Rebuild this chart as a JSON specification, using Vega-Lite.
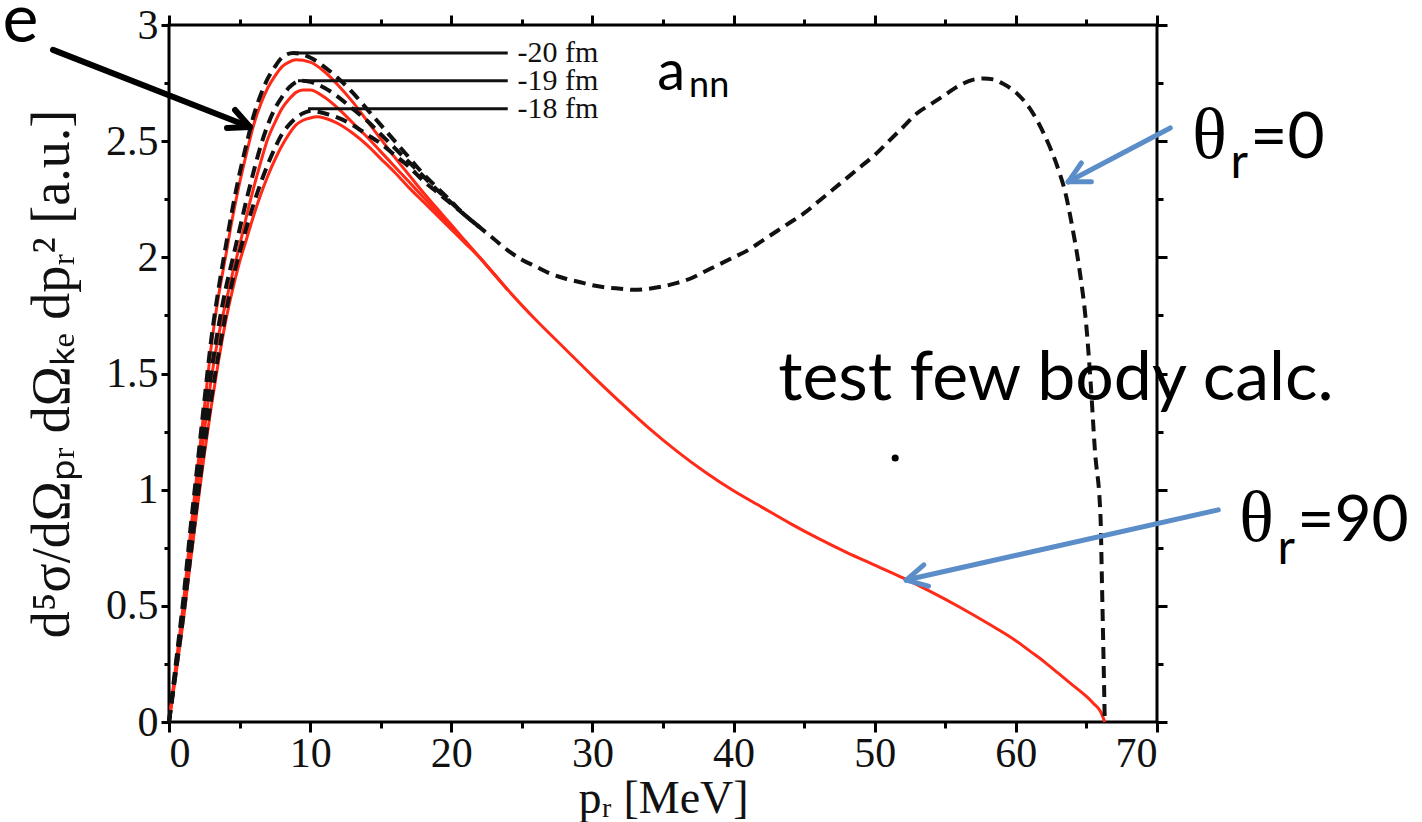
{
  "$schema": "https://vega.github.io/schema/vega-lite/v6.json",
  "width": 988,
  "height": 697,
  "autosize": {"type": "none"},
  "padding": {"left": 169, "top": 25, "right": 265, "bottom": 100},
  "background": "white",
  "config": {
    "view": {"stroke": "#000", "strokeWidth": 3},
    "axis": {"grid": false, "domain": false, "tickColor": "#000", "tickWidth": 3, "labelFont": "Liberation Serif", "labelColor": "#111", "titleFont": "Liberation Serif", "titleColor": "#111", "titleFontWeight": "normal"}
  },
  "datasets": {
    "red": [
      {"p":0,"v":0,"a":"-20"},{"p":0.5,"v":0.25,"a":"-20"},{"p":1,"v":0.5,"a":"-20"},{"p":1.5,"v":0.8,"a":"-20"},{"p":2,"v":1.08,"a":"-20"},{"p":2.5,"v":1.35,"a":"-20"},{"p":3,"v":1.62,"a":"-20"},{"p":3.5,"v":1.83,"a":"-20"},{"p":4,"v":2.0,"a":"-20"},{"p":4.5,"v":2.17,"a":"-20"},{"p":5,"v":2.32,"a":"-20"},{"p":5.5,"v":2.45,"a":"-20"},{"p":6,"v":2.57,"a":"-20"},{"p":6.5,"v":2.66,"a":"-20"},{"p":7,"v":2.73,"a":"-20"},{"p":7.5,"v":2.78,"a":"-20"},{"p":8,"v":2.82,"a":"-20"},{"p":8.5,"v":2.84,"a":"-20"},{"p":9,"v":2.85,"a":"-20"},{"p":10,"v":2.84,"a":"-20"},{"p":11,"v":2.8,"a":"-20"},{"p":12,"v":2.74,"a":"-20"},{"p":13,"v":2.67,"a":"-20"},{"p":14,"v":2.59,"a":"-20"},{"p":15,"v":2.51,"a":"-20"},{"p":16,"v":2.43,"a":"-20"},{"p":17,"v":2.355,"a":"-20"},{"p":18,"v":2.28,"a":"-20"},{"p":19,"v":2.21,"a":"-20"},{"p":20,"v":2.14,"a":"-20"},{"p":21,"v":2.07,"a":"-20"},{"p":22,"v":2.0,"a":"-20"},{"p":23,"v":1.93,"a":"-20"},{"p":24,"v":1.86,"a":"-20"},
      {"p":0,"v":0,"a":"-19"},{"p":0.5,"v":0.23,"a":"-19"},{"p":1,"v":0.47,"a":"-19"},{"p":1.5,"v":0.74,"a":"-19"},{"p":2,"v":1.0,"a":"-19"},{"p":2.5,"v":1.25,"a":"-19"},{"p":3,"v":1.48,"a":"-19"},{"p":3.5,"v":1.66,"a":"-19"},{"p":4,"v":1.8,"a":"-19"},{"p":4.5,"v":1.93,"a":"-19"},{"p":5,"v":2.05,"a":"-19"},{"p":5.5,"v":2.18,"a":"-19"},{"p":6,"v":2.3,"a":"-19"},{"p":6.5,"v":2.41,"a":"-19"},{"p":7,"v":2.51,"a":"-19"},{"p":7.5,"v":2.58,"a":"-19"},{"p":8,"v":2.64,"a":"-19"},{"p":8.5,"v":2.68,"a":"-19"},{"p":9,"v":2.71,"a":"-19"},{"p":9.5,"v":2.72,"a":"-19"},{"p":10,"v":2.72,"a":"-19"},{"p":11,"v":2.69,"a":"-19"},{"p":12,"v":2.64,"a":"-19"},{"p":13,"v":2.58,"a":"-19"},{"p":14,"v":2.52,"a":"-19"},{"p":15,"v":2.455,"a":"-19"},{"p":16,"v":2.39,"a":"-19"},{"p":17,"v":2.325,"a":"-19"},{"p":18,"v":2.26,"a":"-19"},{"p":19,"v":2.195,"a":"-19"},{"p":20,"v":2.13,"a":"-19"},{"p":21,"v":2.065,"a":"-19"},{"p":22,"v":2.0,"a":"-19"},{"p":23,"v":1.93,"a":"-19"},{"p":24,"v":1.86,"a":"-19"},{"p":26,"v":1.73,"a":"-19"},{"p":28,"v":1.61,"a":"-19"},{"p":30,"v":1.49,"a":"-19"},{"p":32,"v":1.375,"a":"-19"},{"p":34,"v":1.265,"a":"-19"},{"p":36,"v":1.165,"a":"-19"},{"p":38,"v":1.075,"a":"-19"},{"p":40,"v":0.995,"a":"-19"},{"p":42,"v":0.925,"a":"-19"},{"p":44,"v":0.855,"a":"-19"},{"p":46,"v":0.79,"a":"-19"},{"p":48,"v":0.73,"a":"-19"},{"p":50,"v":0.675,"a":"-19"},{"p":52,"v":0.62,"a":"-19"},{"p":54,"v":0.56,"a":"-19"},{"p":56,"v":0.495,"a":"-19"},{"p":58,"v":0.425,"a":"-19"},{"p":60,"v":0.35,"a":"-19"},{"p":61,"v":0.305,"a":"-19"},{"p":62,"v":0.26,"a":"-19"},{"p":63,"v":0.21,"a":"-19"},{"p":64,"v":0.16,"a":"-19"},{"p":65,"v":0.11,"a":"-19"},{"p":65.5,"v":0.08,"a":"-19"},{"p":66,"v":0.045,"a":"-19"},{"p":66.3,"v":0,"a":"-19"},
      {"p":0,"v":0,"a":"-18"},{"p":0.5,"v":0.21,"a":"-18"},{"p":1,"v":0.43,"a":"-18"},{"p":1.5,"v":0.68,"a":"-18"},{"p":2,"v":0.92,"a":"-18"},{"p":2.5,"v":1.15,"a":"-18"},{"p":3,"v":1.36,"a":"-18"},{"p":3.5,"v":1.55,"a":"-18"},{"p":4,"v":1.72,"a":"-18"},{"p":4.5,"v":1.86,"a":"-18"},{"p":5,"v":1.98,"a":"-18"},{"p":5.5,"v":2.08,"a":"-18"},{"p":6,"v":2.18,"a":"-18"},{"p":6.5,"v":2.27,"a":"-18"},{"p":7,"v":2.35,"a":"-18"},{"p":7.5,"v":2.42,"a":"-18"},{"p":8,"v":2.48,"a":"-18"},{"p":8.5,"v":2.53,"a":"-18"},{"p":9,"v":2.57,"a":"-18"},{"p":9.5,"v":2.59,"a":"-18"},{"p":10,"v":2.6,"a":"-18"},{"p":10.5,"v":2.605,"a":"-18"},{"p":11,"v":2.6,"a":"-18"},{"p":12,"v":2.575,"a":"-18"},{"p":13,"v":2.535,"a":"-18"},{"p":14,"v":2.485,"a":"-18"},{"p":15,"v":2.425,"a":"-18"},{"p":16,"v":2.365,"a":"-18"},{"p":17,"v":2.3,"a":"-18"},{"p":18,"v":2.24,"a":"-18"},{"p":19,"v":2.18,"a":"-18"},{"p":20,"v":2.12,"a":"-18"},{"p":21,"v":2.06,"a":"-18"},{"p":22,"v":2.0,"a":"-18"},{"p":23,"v":1.93,"a":"-18"},{"p":24,"v":1.86,"a":"-18"}
    ],
    "dash": [
      {"p":0,"v":0,"a":"-20"},{"p":0.5,"v":0.26,"a":"-20"},{"p":1,"v":0.52,"a":"-20"},{"p":1.5,"v":0.82,"a":"-20"},{"p":2,"v":1.1,"a":"-20"},{"p":2.5,"v":1.38,"a":"-20"},{"p":3,"v":1.65,"a":"-20"},{"p":3.5,"v":1.86,"a":"-20"},{"p":4,"v":2.04,"a":"-20"},{"p":4.5,"v":2.21,"a":"-20"},{"p":5,"v":2.36,"a":"-20"},{"p":5.5,"v":2.49,"a":"-20"},{"p":6,"v":2.61,"a":"-20"},{"p":6.5,"v":2.7,"a":"-20"},{"p":7,"v":2.77,"a":"-20"},{"p":7.5,"v":2.82,"a":"-20"},{"p":8,"v":2.86,"a":"-20"},{"p":8.8,"v":2.88,"a":"-20"},{"p":10,"v":2.86,"a":"-20"},{"p":11,"v":2.82,"a":"-20"},{"p":12,"v":2.77,"a":"-20"},{"p":13,"v":2.71,"a":"-20"},{"p":14,"v":2.64,"a":"-20"},{"p":15,"v":2.57,"a":"-20"},{"p":16,"v":2.5,"a":"-20"},{"p":17,"v":2.43,"a":"-20"},{"p":18,"v":2.36,"a":"-20"},{"p":19,"v":2.3,"a":"-20"},{"p":20,"v":2.24,"a":"-20"},{"p":21,"v":2.18,"a":"-20"},{"p":22,"v":2.13,"a":"-20"},
      {"p":0,"v":0,"a":"-19"},{"p":0.5,"v":0.24,"a":"-19"},{"p":1,"v":0.49,"a":"-19"},{"p":1.5,"v":0.76,"a":"-19"},{"p":2,"v":1.03,"a":"-19"},{"p":2.5,"v":1.28,"a":"-19"},{"p":3,"v":1.51,"a":"-19"},{"p":3.5,"v":1.7,"a":"-19"},{"p":4,"v":1.86,"a":"-19"},{"p":4.5,"v":1.99,"a":"-19"},{"p":5,"v":2.12,"a":"-19"},{"p":5.5,"v":2.25,"a":"-19"},{"p":6,"v":2.37,"a":"-19"},{"p":6.5,"v":2.48,"a":"-19"},{"p":7,"v":2.57,"a":"-19"},{"p":7.5,"v":2.64,"a":"-19"},{"p":8,"v":2.69,"a":"-19"},{"p":8.5,"v":2.73,"a":"-19"},{"p":9.3,"v":2.76,"a":"-19"},{"p":10,"v":2.755,"a":"-19"},{"p":11,"v":2.73,"a":"-19"},{"p":12,"v":2.69,"a":"-19"},{"p":13,"v":2.64,"a":"-19"},{"p":14,"v":2.59,"a":"-19"},{"p":15,"v":2.53,"a":"-19"},{"p":16,"v":2.47,"a":"-19"},{"p":17,"v":2.41,"a":"-19"},{"p":18,"v":2.35,"a":"-19"},{"p":19,"v":2.29,"a":"-19"},{"p":20,"v":2.235,"a":"-19"},{"p":21,"v":2.18,"a":"-19"},{"p":22,"v":2.13,"a":"-19"},{"p":23,"v":2.08,"a":"-19"},{"p":24,"v":2.03,"a":"-19"},{"p":25,"v":1.99,"a":"-19"},{"p":26,"v":1.96,"a":"-19"},{"p":27,"v":1.93,"a":"-19"},{"p":28,"v":1.91,"a":"-19"},{"p":29,"v":1.895,"a":"-19"},{"p":30,"v":1.88,"a":"-19"},{"p":31,"v":1.87,"a":"-19"},{"p":32,"v":1.865,"a":"-19"},{"p":33,"v":1.86,"a":"-19"},{"p":34,"v":1.865,"a":"-19"},{"p":35,"v":1.875,"a":"-19"},{"p":36,"v":1.89,"a":"-19"},{"p":37,"v":1.91,"a":"-19"},{"p":38,"v":1.94,"a":"-19"},{"p":39,"v":1.97,"a":"-19"},{"p":40,"v":2.0,"a":"-19"},{"p":41,"v":2.03,"a":"-19"},{"p":42,"v":2.07,"a":"-19"},{"p":43,"v":2.11,"a":"-19"},{"p":44,"v":2.15,"a":"-19"},{"p":45,"v":2.19,"a":"-19"},{"p":46,"v":2.24,"a":"-19"},{"p":47,"v":2.29,"a":"-19"},{"p":48,"v":2.34,"a":"-19"},{"p":49,"v":2.39,"a":"-19"},{"p":50,"v":2.44,"a":"-19"},{"p":51,"v":2.5,"a":"-19"},{"p":52,"v":2.56,"a":"-19"},{"p":53,"v":2.62,"a":"-19"},{"p":54,"v":2.66,"a":"-19"},{"p":55,"v":2.7,"a":"-19"},{"p":56,"v":2.74,"a":"-19"},{"p":57,"v":2.765,"a":"-19"},{"p":57.7,"v":2.77,"a":"-19"},{"p":58.5,"v":2.765,"a":"-19"},{"p":59,"v":2.75,"a":"-19"},{"p":60,"v":2.71,"a":"-19"},{"p":61,"v":2.64,"a":"-19"},{"p":62,"v":2.53,"a":"-19"},{"p":63,"v":2.38,"a":"-19"},{"p":63.5,"v":2.28,"a":"-19"},{"p":64,"v":2.13,"a":"-19"},{"p":64.5,"v":1.95,"a":"-19"},{"p":65,"v":1.7,"a":"-19"},{"p":65.3,"v":1.46,"a":"-19"},{"p":65.6,"v":1.17,"a":"-19"},{"p":66,"v":0.88,"a":"-19"},{"p":66.1,"v":0.6,"a":"-19"},{"p":66.2,"v":0.31,"a":"-19"},{"p":66.3,"v":0,"a":"-19"},
      {"p":0,"v":0,"a":"-18"},{"p":0.5,"v":0.22,"a":"-18"},{"p":1,"v":0.45,"a":"-18"},{"p":1.5,"v":0.7,"a":"-18"},{"p":2,"v":0.95,"a":"-18"},{"p":2.5,"v":1.18,"a":"-18"},{"p":3,"v":1.39,"a":"-18"},{"p":3.5,"v":1.58,"a":"-18"},{"p":4,"v":1.75,"a":"-18"},{"p":4.5,"v":1.9,"a":"-18"},{"p":5,"v":2.02,"a":"-18"},{"p":5.5,"v":2.13,"a":"-18"},{"p":6,"v":2.23,"a":"-18"},{"p":6.5,"v":2.32,"a":"-18"},{"p":7,"v":2.4,"a":"-18"},{"p":7.5,"v":2.47,"a":"-18"},{"p":8,"v":2.53,"a":"-18"},{"p":8.5,"v":2.57,"a":"-18"},{"p":9,"v":2.6,"a":"-18"},{"p":9.5,"v":2.62,"a":"-18"},{"p":10,"v":2.63,"a":"-18"},{"p":11,"v":2.62,"a":"-18"},{"p":12,"v":2.6,"a":"-18"},{"p":13,"v":2.57,"a":"-18"},{"p":14,"v":2.53,"a":"-18"},{"p":15,"v":2.49,"a":"-18"},{"p":16,"v":2.44,"a":"-18"},{"p":17,"v":2.39,"a":"-18"},{"p":18,"v":2.33,"a":"-18"},{"p":19,"v":2.28,"a":"-18"},{"p":20,"v":2.23,"a":"-18"},{"p":21,"v":2.18,"a":"-18"},{"p":22,"v":2.13,"a":"-18"}
    ]
  },
  "resolve": {"axis": {"x": "independent", "y": "independent"}},
  "layer": [
    {
      "data": {"name": "red"},
      "mark": {"type": "line", "stroke": "#ff2a17", "strokeWidth": 3, "interpolate": "monotone"},
      "encoding": {
        "x": {"field": "p", "type": "quantitative", "scale": {"domain": [0, 70], "nice": false, "zero": false},
          "axis": {"orient": "bottom", "values": [0,10,20,30,40,50,60,70], "ticks": false, "labelFontSize": 42, "labelPadding": 11, "title": "pᵣ [MeV]", "titleFontSize": 46, "titlePadding": 2}},
        "y": {"field": "v", "type": "quantitative", "scale": {"domain": [0, 3], "nice": false, "zero": false},
          "axis": {"orient": "left", "values": [0,0.5,1,1.5,2,2.5,3], "format": "~g", "ticks": false, "labelFontSize": 42, "labelPadding": 11, "title": "d⁵σ/dΩₚᵣ dΩₖₑ dpᵣ² [a.u.]", "titleFontSize": 54, "titlePadding": 26}},
        "detail": {"field": "a", "type": "nominal"}
      }
    },
    {
      "data": {"name": "dash"},
      "mark": {"type": "line", "stroke": "#111", "strokeWidth": 4, "strokeDash": [12, 7], "interpolate": "monotone"},
      "encoding": {
        "x": {"field": "p", "type": "quantitative", "scale": {"domain": [0, 70], "nice": false, "zero": false},
          "axis": {"orient": "bottom", "values": [0,10,20,30,40,50,60,70], "labels": false, "title": null, "tickSize": 10}},
        "y": {"field": "v", "type": "quantitative", "scale": {"domain": [0, 3], "nice": false, "zero": false},
          "axis": {"orient": "left", "values": [0,0.5,1,1.5,2,2.5,3], "labels": false, "title": null, "tickSize": 8}},
        "detail": {"field": "a", "type": "nominal"}
      }
    },
    {
      "data": {"values": [
        {"x1": 8.93, "x2": 24.0, "y": 2.88},
        {"x1": 9.14, "x2": 24.0, "y": 2.76},
        {"x1": 9.85, "x2": 24.0, "y": 2.64}
      ]},
      "mark": {"type": "rule", "stroke": "#111", "strokeWidth": 3},
      "encoding": {
        "x": {"field": "x1", "type": "quantitative", "scale": {"domain": [0, 70], "nice": false, "zero": false},
          "axis": {"orient": "bottom", "values": [5,15,25,35,45,55,65], "labels": false, "title": null, "tickSize": 6}},
        "x2": {"field": "x2"},
        "y": {"field": "y", "type": "quantitative", "scale": {"domain": [0, 3], "nice": false, "zero": false},
          "axis": {"orient": "left", "values": [0.25,0.75,1.25,1.75,2.25,2.75], "labels": false, "title": null, "tickSize": 5}}
      }
    },
    {
      "data": {"values": [
        {"x": 24.7, "y": 2.88, "t": "-20 fm"},
        {"x": 24.7, "y": 2.76, "t": "-19 fm"},
        {"x": 24.7, "y": 2.64, "t": "-18 fm"}
      ]},
      "mark": {"type": "text", "font": "Liberation Serif", "fontSize": 30, "align": "left", "baseline": "middle", "color": "#111"},
      "encoding": {
        "x": {"field": "x", "type": "quantitative", "scale": {"domain": [0, 70], "nice": false, "zero": false},
          "axis": {"orient": "top", "values": [0,10,20,30,40,50,60,70], "labels": false, "title": null, "tickSize": 10}},
        "y": {"field": "y", "type": "quantitative", "scale": {"domain": [0, 3], "nice": false, "zero": false},
          "axis": {"orient": "right", "values": [0,0.5,1,1.5,2,2.5,3], "labels": false, "title": null, "tickSize": 10}},
        "text": {"field": "t"}
      }
    },
    {
      "data": {"values": [
        {"x": -8.22, "y": 2.893, "x2": 5.74, "y2": 2.561},
        {"x": 5.74, "y": 2.561, "x2": 4.68, "y2": 2.634},
        {"x": 5.74, "y": 2.561, "x2": 4.11, "y2": 2.557}
      ]},
      "mark": {"type": "rule", "stroke": "#000", "strokeWidth": 6, "strokeCap": "round"},
      "encoding": {
        "x": {"field": "x", "type": "quantitative", "scale": {"domain": [0, 70], "nice": false, "zero": false},
          "axis": {"orient": "top", "values": [5,15,25,35,45,55,65], "labels": false, "title": null, "tickSize": 6}},
        "y": {"field": "y", "type": "quantitative", "scale": {"domain": [0, 3], "nice": false, "zero": false},
          "axis": {"orient": "right", "values": [0.25,0.75,1.25,1.75,2.25,2.75], "labels": false, "title": null, "tickSize": 6}},
        "x2": {"field": "x2"},
        "y2": {"field": "y2"}
      }
    },
    {
      "data": {"values": [
        {"x": 70.94, "y": 2.557, "x2": 63.71, "y2": 2.325},
        {"x": 63.71, "y": 2.325, "x2": 64.64, "y2": 2.406},
        {"x": 63.71, "y": 2.325, "x2": 65.35, "y2": 2.325},
        {"x": 74.34, "y": 0.913, "x2": 52.23, "y2": 0.611},
        {"x": 52.23, "y": 0.611, "x2": 53.48, "y2": 0.676},
        {"x": 52.23, "y": 0.611, "x2": 53.81, "y2": 0.585}
      ]},
      "mark": {"type": "rule", "stroke": "#5b8dc8", "strokeWidth": 5, "strokeCap": "round"},
      "encoding": {
        "x": {"field": "x", "type": "quantitative", "scale": {"domain": [0, 70], "nice": false, "zero": false}, "axis": null},
        "y": {"field": "y", "type": "quantitative", "scale": {"domain": [0, 3], "nice": false, "zero": false}, "axis": null},
        "x2": {"field": "x2"},
        "y2": {"field": "y2"}
      }
    },
    {
      "data": {"values": [
        {"x": -11.8, "y": 2.927, "t": "e"},
        {"x": 43.16, "y": 1.386, "t": "test few body calc."}
      ]},
      "mark": {"type": "text", "font": "Lato", "fontSize": 68, "align": "left", "baseline": "alphabetic", "color": "#000"},
      "encoding": {
        "x": {"field": "x", "type": "quantitative", "scale": {"domain": [0, 70], "nice": false, "zero": false}, "axis": null},
        "y": {"field": "y", "type": "quantitative", "scale": {"domain": [0, 3], "nice": false, "zero": false}, "axis": null},
        "text": {"field": "t"}
      }
    },
    {
      "data": {"values": [
        {"x": 76.61, "y": 2.428, "t": "=0"},
        {"x": 79.94, "y": 0.78, "t": "=90"}
      ]},
      "mark": {"type": "text", "font": "Lato", "fontSize": 64, "align": "left", "baseline": "alphabetic", "color": "#000"},
      "encoding": {
        "x": {"field": "x", "type": "quantitative", "scale": {"domain": [0, 70], "nice": false, "zero": false}, "axis": null},
        "y": {"field": "y", "type": "quantitative", "scale": {"domain": [0, 3], "nice": false, "zero": false}, "axis": null},
        "text": {"field": "t"}
      }
    },
    {
      "data": {"values": [
        {"x": 72.5, "y": 2.428, "t": "θ"},
        {"x": 75.83, "y": 0.78, "t": "θ"}
      ]},
      "mark": {"type": "text", "font": "Liberation Serif", "fontSize": 72, "align": "left", "baseline": "alphabetic", "color": "#000"},
      "encoding": {
        "x": {"field": "x", "type": "quantitative", "scale": {"domain": [0, 70], "nice": false, "zero": false}, "axis": null},
        "y": {"field": "y", "type": "quantitative", "scale": {"domain": [0, 3], "nice": false, "zero": false}, "axis": null},
        "text": {"field": "t"}
      }
    },
    {
      "data": {"values": [
        {"x": 75.2, "y": 2.342, "t": "r"},
        {"x": 78.53, "y": 0.68, "t": "r"}
      ]},
      "mark": {"type": "text", "font": "Lato", "fontSize": 48, "align": "left", "baseline": "alphabetic", "color": "#000"},
      "encoding": {
        "x": {"field": "x", "type": "quantitative", "scale": {"domain": [0, 70], "nice": false, "zero": false}, "axis": null},
        "y": {"field": "y", "type": "quantitative", "scale": {"domain": [0, 3], "nice": false, "zero": false}, "axis": null},
        "text": {"field": "t"}
      }
    },
    {
      "data": {"values": [{"x": 34.59, "y": 2.721, "t": "a"}]},
      "mark": {"type": "text", "font": "Lato", "fontSize": 56, "align": "left", "baseline": "alphabetic", "color": "#000"},
      "encoding": {
        "x": {"field": "x", "type": "quantitative", "scale": {"domain": [0, 70], "nice": false, "zero": false}, "axis": null},
        "y": {"field": "y", "type": "quantitative", "scale": {"domain": [0, 3], "nice": false, "zero": false}, "axis": null},
        "text": {"field": "t"}
      }
    },
    {
      "data": {"values": [{"x": 36.85, "y": 2.69, "t": "nn"}]},
      "mark": {"type": "text", "font": "Lato", "fontSize": 36, "align": "left", "baseline": "alphabetic", "color": "#000"},
      "encoding": {
        "x": {"field": "x", "type": "quantitative", "scale": {"domain": [0, 70], "nice": false, "zero": false}, "axis": null},
        "y": {"field": "y", "type": "quantitative", "scale": {"domain": [0, 3], "nice": false, "zero": false}, "axis": null},
        "text": {"field": "t"}
      }
    },
    {
      "data": {"values": [{"x": 51.45, "y": 1.136}]},
      "mark": {"type": "point", "shape": "circle", "filled": true, "size": 50, "color": "#000", "opacity": 1},
      "encoding": {
        "x": {"field": "x", "type": "quantitative", "scale": {"domain": [0, 70], "nice": false, "zero": false}, "axis": null},
        "y": {"field": "y", "type": "quantitative", "scale": {"domain": [0, 3], "nice": false, "zero": false}, "axis": null}
      }
    }
  ]
}
